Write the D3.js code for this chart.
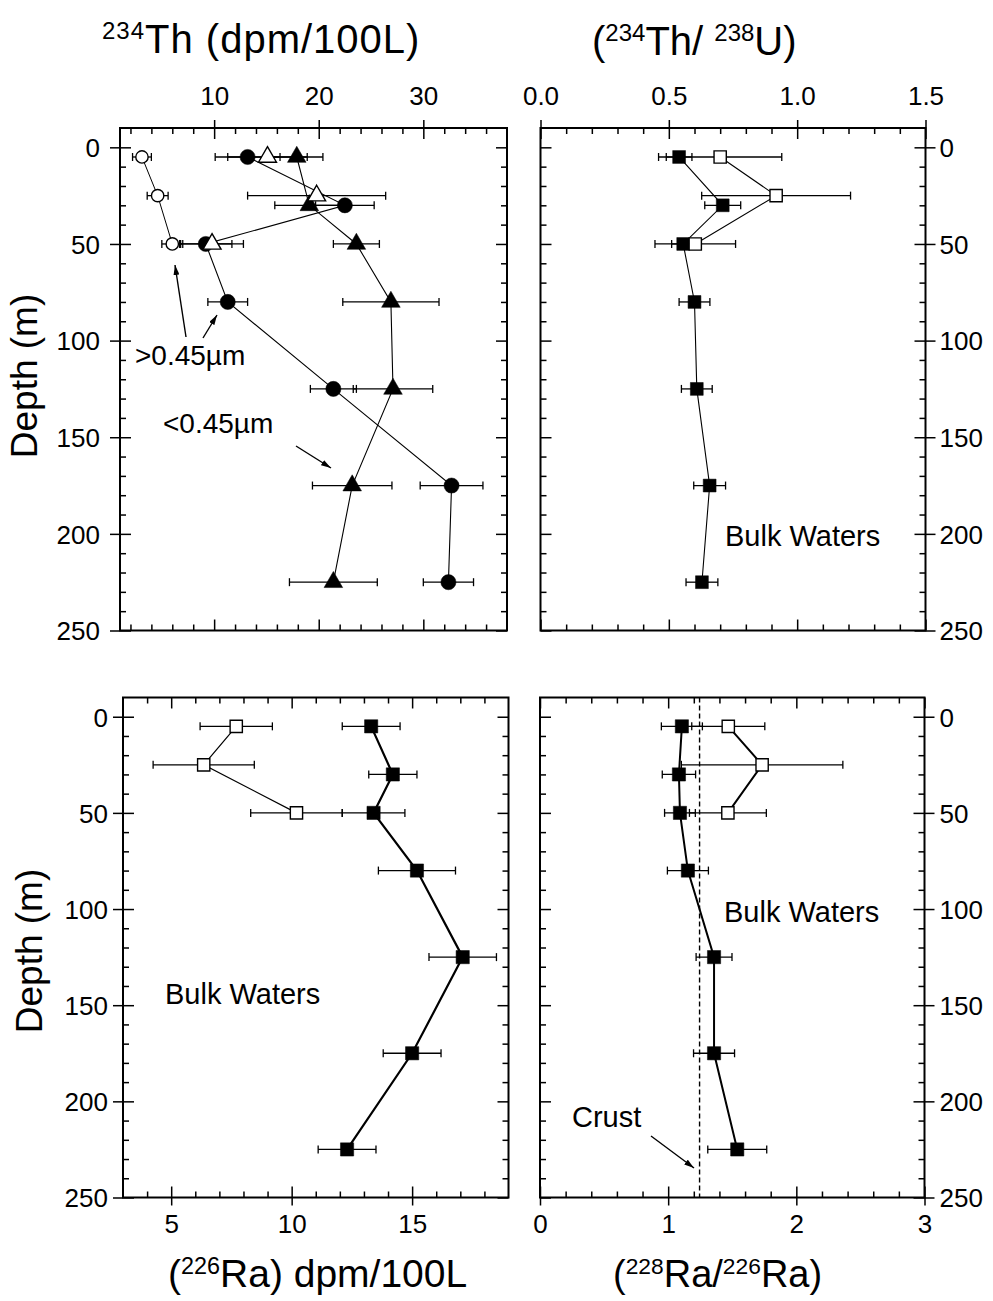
<!DOCTYPE html>
<html lang="en">
<head>
<meta charset="UTF-8">
<title>Th-234 and Ra profiles</title>
<script src="https://d3js.org/d3.v7.min.js"></script>
<style>
  body { margin: 0; background: #fff; }
  svg text { font-family: "Liberation Sans", Arial, Helvetica, sans-serif; fill: #000; }
</style>
</head>
<body>
<div id="chart"></div>
<script>
// depths (m)
const depthFull = [5, 30, 50, 80, 125, 175, 225];
const depthShort = [5, 25, 50];
const depthTicks = [0, 50, 100, 150, 200, 250];

// top left: 234Th (dpm/100L)
const thTicks = [10, 20, 30];
const thFilledCircle = [13.2, 22.5, 9.2, 11.3, 21.4, 32.7, 32.4];
const thFilledCircleErr = [3.1, 2.8, 2.5, 1.9, 2.2, 3.0, 2.4];
const thFilledTri = [17.9, 19.1, 23.6, 26.9, 27.1, 23.2, 21.4];
const thFilledTriErr = [2.5, 3.3, 2.2, 4.6, 3.8, 3.8, 4.2];
const thOpenCircle = [3.1, 4.6, 6.0];
const thOpenCircleErr = [0.9, 1.0, 1.0];
const thOpenTri = [15.1, 19.8, 9.8];
const thOpenTriErr = [3.8, 6.6, 3.0];

// top right: (234Th/238U)
const thuTicks = [0, 0.5, 1.0, 1.5];
const thuFilled = [0.54, 0.71, 0.556, 0.60, 0.609, 0.659, 0.629];
const thuFilledErr = [0.05, 0.07, 0.045, 0.06, 0.06, 0.062, 0.062];
const thuOpen = [0.70, 0.918, 0.603];
const thuOpenErr = [0.24, 0.29, 0.157];

// bottom left: (226Ra) dpm/100L
const ra226Ticks = [5, 10, 15];
const ra226Filled = [13.3, 14.2, 13.4, 15.2, 17.1, 15.0, 12.3];
const ra226FilledErr = [1.2, 1.0, 1.3, 1.6, 1.4, 1.2, 1.2];
const ra226Open = [7.7, 6.35, 10.2];
const ra226OpenErr = [1.5, 2.1, 1.9];

// bottom right: (228Ra/226Ra)
const raRatioTicks = [0, 1, 2, 3];
const raRatioFilled = [1.107, 1.084, 1.092, 1.154, 1.358, 1.358, 1.539];
const raRatioFilledErr = [0.16, 0.13, 0.12, 0.16, 0.14, 0.16, 0.23];
const raRatioOpen = [1.469, 1.733, 1.466];
const raRatioOpenErr = [0.285, 0.63, 0.30];
const crustRatio = 1.245;

const width = 993, height = 1301;
const svg = d3.select("#chart").append("svg")
    .attr("width", width).attr("height", height);

const defs = svg.append("defs");
defs.append("marker")
    .attr("id", "arrow")
    .attr("viewBox", "0 0 10 6")
    .attr("refX", 10).attr("refY", 3)
    .attr("markerWidth", 10).attr("markerHeight", 6)
    .attr("markerUnits", "userSpaceOnUse")
    .attr("orient", "auto")
    .append("path").attr("d", "M0,0L10,3L0,6Z").attr("fill", "#000");

function minorsOf(lo, hi, step, majors) {
    return d3.range(lo, hi + step / 2, step)
        .filter(v => !majors.some(m => Math.abs(m - v) < step / 10));
}
const depthMinor = minorsOf(10, 240, 10, depthTicks);

function makePanel(x0, x1, y0, y1, xDomain) {
    const p = { x0, x1, y0, y1 };
    p.x = d3.scaleLinear().domain(xDomain).range([x0, x1]);
    p.y = d3.scaleLinear().domain([-10, 250]).range([y0, y1]);
    p.g = svg.append("g");
    return p;
}

// side: left/right/top/bottom; labelled ticks cross the frame
function drawTicks(p, side, scale, majors, minors, fmt, labelPos) {
    const gen = { left: d3.axisLeft, right: d3.axisRight, top: d3.axisTop, bottom: d3.axisBottom }[side];
    const tr = { left: [p.x0, 0], right: [p.x1, 0], top: [0, p.y0], bottom: [0, p.y1] }[side];

    const gMin = p.g.append("g").attr("transform", `translate(${tr})`)
        .call(gen(scale).tickValues(minors).tickSize(-6).tickFormat(""));
    gMin.select(".domain").remove();
    gMin.selectAll(".tick line").attr("stroke-width", 1.5);

    const gMaj = p.g.append("g").attr("transform", `translate(${tr})`)
        .call(gen(scale).tickValues(majors).tickSize(-11).tickFormat(fmt || ""))
        .attr("font-size", 26)
        .attr("font-family", '"Liberation Sans", Arial, sans-serif');
    gMaj.select(".domain").remove();
    gMaj.selectAll(".tick line").attr("stroke-width", 1.5);

    if (fmt) {
        const t = gMaj.selectAll(".tick text");
        if (side === "left") {
            gMaj.selectAll(".tick line").attr("x1", -10);
            t.attr("x", labelPos).attr("dy", "0.36em");
        } else if (side === "right") {
            gMaj.selectAll(".tick line").attr("x1", 10);
            t.attr("x", labelPos).attr("dy", "0.36em");
        } else if (side === "top") {
            gMaj.selectAll(".tick line").attr("y1", -8);
            t.attr("y", labelPos).attr("dy", "0");
        } else {
            gMaj.selectAll(".tick line").attr("y1", 8);
            t.attr("y", labelPos).attr("dy", "0");
        }
    }
}

function drawFrame(p) {
    p.g.append("rect")
        .attr("x", p.x0).attr("y", p.y0)
        .attr("width", p.x1 - p.x0).attr("height", p.y1 - p.y0)
        .attr("fill", "none").attr("stroke", "#000").attr("stroke-width", 2);
}

function rows(values, errs, depths) {
    return values.map((v, i) => ({ v, e: errs[i], d: depths[i] }));
}

function drawLine(p, data, lw) {
    const line = d3.line().x(r => p.x(r.v)).y(r => p.y(r.d));
    p.g.append("path").datum(data)
        .attr("d", line)
        .attr("fill", "none").attr("stroke", "#000").attr("stroke-width", lw);
}

function drawErrors(p, data) {
    const g = p.g.append("g").attr("stroke", "#000").attr("stroke-width", 1.3);
    data.forEach(r => {
        const y = p.y(r.d), xa = p.x(r.v - r.e), xb = p.x(r.v + r.e);
        g.append("line").attr("x1", xa).attr("x2", xb).attr("y1", y).attr("y2", y);
        g.append("line").attr("x1", xa).attr("x2", xa).attr("y1", y - 4).attr("y2", y + 4);
        g.append("line").attr("x1", xb).attr("x2", xb).attr("y1", y - 4).attr("y2", y + 4);
    });
}

function drawSymbols(p, data, type, size, filled) {
    p.g.append("g").selectAll("path")
        .data(data)
        .join("path")
        .attr("transform", r => `translate(${p.x(r.v)},${p.y(r.d)})`)
        .attr("d", d3.symbol().type(type).size(size))
        .attr("fill", filled ? "#000" : "#fff")
        .attr("stroke", "#000")
        .attr("stroke-width", filled ? 0.5 : 1.4);
}

function supText(x, y, parts, size, rotate) {
    const t = svg.append("text").attr("font-size", size);
    if (rotate) {
        t.attr("transform", `translate(${x},${y}) rotate(-90)`).attr("text-anchor", "middle");
    } else {
        t.attr("x", x).attr("y", y);
    }
    const shift = size * 0.34;
    let up = false;
    parts.forEach(([s, sup]) => {
        const ts = t.append("tspan").text(s);
        if (sup) {
            ts.attr("font-size", size * 0.6);
            if (!up) { ts.attr("dy", -shift); up = true; }
        } else if (up) {
            ts.attr("dy", shift); up = false;
        }
    });
    return t;
}

function label(x, y, s, size) {
    return svg.append("text").attr("x", x).attr("y", y).attr("font-size", size).text(s);
}

function arrow(xa, ya, xb, yb) {
    svg.append("line")
        .attr("x1", xa).attr("y1", ya).attr("x2", xb).attr("y2", yb)
        .attr("stroke", "#000").attr("stroke-width", 1.4)
        .attr("marker-end", "url(#arrow)");
}

// ---------- top left ----------
const pTL = makePanel(120, 507, 128, 630.5, [1, 38]);
drawTicks(pTL, "top", pTL.x, thTicks, minorsOf(2, 36, 2, thTicks), d3.format("d"), -23);
drawTicks(pTL, "bottom", pTL.x, thTicks, minorsOf(2, 36, 2, thTicks));
drawTicks(pTL, "left", pTL.y, depthTicks, depthMinor, d3.format("d"), -20);
drawTicks(pTL, "right", pTL.y, depthTicks, depthMinor);
drawFrame(pTL);

const tlOC = rows(thOpenCircle, thOpenCircleErr, depthShort);
const tlFC = rows(thFilledCircle, thFilledCircleErr, depthFull);
const tlFT = rows(thFilledTri, thFilledTriErr, depthFull);
const tlOT = rows(thOpenTri, thOpenTriErr, depthShort);
drawLine(pTL, tlOC, 1);
drawLine(pTL, tlFC, 1.1);
drawLine(pTL, tlFT, 1.1);
drawErrors(pTL, tlOC);
drawErrors(pTL, tlFC);
drawErrors(pTL, tlFT);
drawErrors(pTL, tlOT);
drawSymbols(pTL, tlFT, d3.symbolTriangle, 150, true);
drawSymbols(pTL, tlFC, d3.symbolCircle, 180, true);
drawSymbols(pTL, tlOC, d3.symbolCircle, 120, false);
drawSymbols(pTL, tlOT, d3.symbolTriangle, 140, false);

// ---------- top right ----------
const pTR = makePanel(540.5, 925.5, 128, 630.5, [0, 1.5]);
drawTicks(pTR, "top", pTR.x, thuTicks, minorsOf(0.1, 1.4, 0.1, thuTicks), d3.format(".1f"), -23);
drawTicks(pTR, "bottom", pTR.x, thuTicks, minorsOf(0.1, 1.4, 0.1, thuTicks));
drawTicks(pTR, "left", pTR.y, depthTicks, depthMinor);
drawTicks(pTR, "right", pTR.y, depthTicks, depthMinor, d3.format("d"), 14);
drawFrame(pTR);

const trF = rows(thuFilled, thuFilledErr, depthFull);
const trO = rows(thuOpen, thuOpenErr, depthShort);
drawLine(pTR, trF, 1.1);
drawLine(pTR, trO, 1.1);
drawErrors(pTR, trF);
drawErrors(pTR, trO);
drawSymbols(pTR, trF, d3.symbolSquare, 165, true);
drawSymbols(pTR, trO, d3.symbolSquare, 150, false);

// ---------- bottom left ----------
const pBL = makePanel(123, 508.5, 697.5, 1197.5, [3, 19]);
drawTicks(pBL, "top", pBL.x, ra226Ticks, minorsOf(4, 18, 1, ra226Ticks));
drawTicks(pBL, "bottom", pBL.x, ra226Ticks, minorsOf(4, 18, 1, ra226Ticks), d3.format("d"), 35);
drawTicks(pBL, "left", pBL.y, depthTicks, depthMinor, d3.format("d"), -15);
drawTicks(pBL, "right", pBL.y, depthTicks, depthMinor);
drawFrame(pBL);

const blF = rows(ra226Filled, ra226FilledErr, depthFull);
const blO = rows(ra226Open, ra226OpenErr, depthShort);
drawLine(pBL, blF, 2.2);
drawLine(pBL, blO, 1.2);
drawErrors(pBL, blF);
drawErrors(pBL, blO);
drawSymbols(pBL, blF, d3.symbolSquare, 175, true);
drawSymbols(pBL, blO, d3.symbolSquare, 150, false);

// ---------- bottom right ----------
const pBR = makePanel(540, 924.5, 697.5, 1197.5, [0, 3]);
drawTicks(pBR, "top", pBR.x, raRatioTicks, minorsOf(0.2, 2.8, 0.2, raRatioTicks));
drawTicks(pBR, "bottom", pBR.x, raRatioTicks, minorsOf(0.2, 2.8, 0.2, raRatioTicks), d3.format("d"), 35);
drawTicks(pBR, "left", pBR.y, depthTicks, depthMinor);
drawTicks(pBR, "right", pBR.y, depthTicks, depthMinor, d3.format("d"), 15);
drawFrame(pBR);

pBR.g.append("line")
    .attr("x1", pBR.x(crustRatio)).attr("x2", pBR.x(crustRatio))
    .attr("y1", pBR.y0).attr("y2", pBR.y1)
    .attr("stroke", "#000").attr("stroke-width", 1.4)
    .attr("stroke-dasharray", "5,3");

const brF = rows(raRatioFilled, raRatioFilledErr, depthFull);
const brO = rows(raRatioOpen, raRatioOpenErr, depthShort);
drawLine(pBR, brF, 2);
drawLine(pBR, brO, 2);
drawErrors(pBR, brF);
drawErrors(pBR, brO);
drawSymbols(pBR, brF, d3.symbolSquare, 175, true);
drawSymbols(pBR, brO, d3.symbolSquare, 150, false);

// ---------- titles ----------
supText(102, 53, [["234", true], ["Th (dpm/100L)", false]], 40).attr("letter-spacing", 1);
supText(592, 55, [["(", false], ["234", true], ["Th/ ", false], ["238", true], ["U)", false]], 40);
supText(168, 1287, [["(", false], ["226", true], ["Ra) dpm/100L", false]], 39);
supText(613, 1287, [["(", false], ["228", true], ["Ra/", false], ["226", true], ["Ra)", false]], 38);
supText(37, 376, [["Depth (m)", false]], 37, true);
supText(42, 951, [["Depth (m)", false]], 37, true);

// ---------- annotations ----------
label(135, 365, ">0.45\u00b5m", 28);
label(163, 433, "<0.45\u00b5m", 28);
arrow(186, 337, 175, 265);
arrow(203, 338, 217, 315);
arrow(296, 446, 331, 468);

label(725, 546, "Bulk Waters", 29);
label(165, 1004, "Bulk Waters", 29);
label(724, 922, "Bulk Waters", 29);
label(572, 1127, "Crust", 29);
arrow(651, 1136, 694, 1168);
</script>
</body>
</html>
